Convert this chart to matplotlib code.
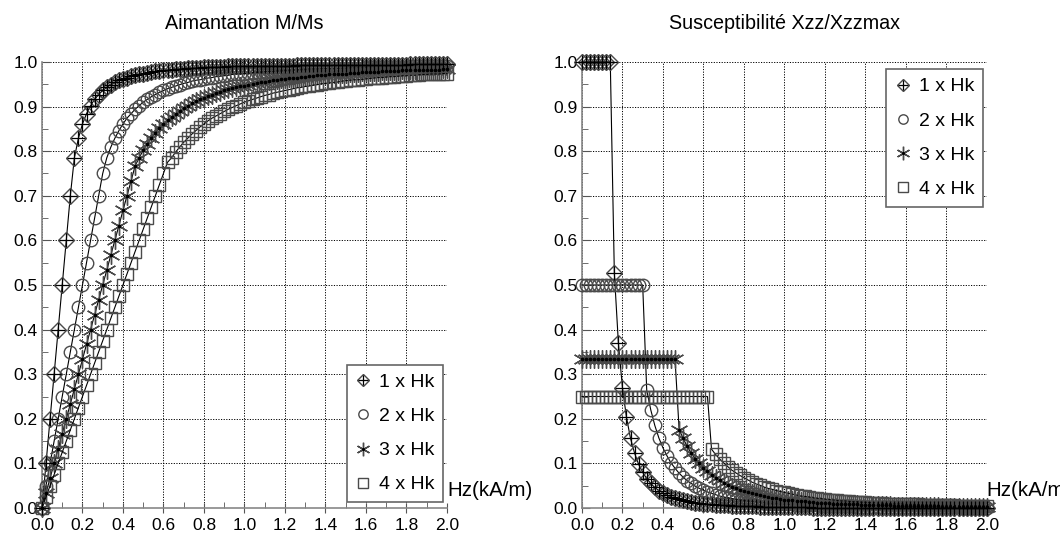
import matplotlib
matplotlib.use("Agg")
import matplotlib.pyplot as plt
from matplotlib.lines import Line2D
from matplotlib.ticker import MultipleLocator

plt.rcParams["font.family"] = ["Liberation Sans", "DejaVu Sans"]

# field Hz (kA/m), sampled every 0.02
hz = [round(0.02 * i, 2) for i in range(101)]

labels = ["1 x Hk", "2 x Hk", "3 x Hk", "4 x Hk"]

# magnetisation M/Ms
m1 = ([0, 0.1, 0.2, 0.3, 0.4, 0.5, 0.6, 0.7,
       0.785, 0.829, 0.861, 0.884, 0.902, 0.916, 0.927, 0.936, 0.943, 0.949,
       0.954, 0.959, 0.962, 0.965, 0.968, 0.970, 0.973, 0.974, 0.976, 0.977,
       0.979, 0.980, 0.981, 0.982, 0.983, 0.984, 0.984, 0.985, 0.986, 0.986,
       0.987, 0.987, 0.988, 0.988, 0.988, 0.989, 0.989, 0.989, 0.990, 0.990,
       0.990, 0.990, 0.991]
      + [0.991] * 4 + [0.992] * 8 + [0.993] * 10 + [0.994] * 18 + [0.995] * 10)
m2 = [0, 0.05, 0.1, 0.15, 0.2, 0.25, 0.3, 0.35, 0.4, 0.45, 0.5, 0.55, 0.6, 0.65, 0.7, 0.75,
      0.785, 0.809, 0.829, 0.846, 0.861, 0.874, 0.884, 0.894, 0.902, 0.910,
      0.916, 0.922, 0.927, 0.932, 0.936, 0.940, 0.943, 0.946, 0.949, 0.952,
      0.954, 0.957, 0.959, 0.960, 0.962, 0.964, 0.965, 0.967, 0.968, 0.969,
      0.970, 0.972, 0.973, 0.973, 0.974, 0.975, 0.976, 0.977, 0.977, 0.978,
      0.979, 0.979, 0.980, 0.980, 0.981, 0.981, 0.982, 0.982, 0.983, 0.983,
      0.984, 0.984, 0.984, 0.985, 0.985, 0.985, 0.986, 0.986, 0.986, 0.986,
      0.987, 0.987, 0.987, 0.987, 0.988, 0.988, 0.988, 0.988, 0.988, 0.989,
      0.989, 0.989, 0.989, 0.989, 0.989, 0.990, 0.990, 0.990, 0.990, 0.990,
      0.990, 0.990, 0.990, 0.990, 0.991]
m3 = [0, 0.033, 0.067, 0.1, 0.133, 0.167, 0.2, 0.233, 0.267, 0.3, 0.333, 0.367,
      0.4, 0.433, 0.467, 0.5, 0.533, 0.567, 0.6, 0.633, 0.667, 0.7, 0.733, 0.767,
      0.785, 0.802, 0.816, 0.829, 0.841, 0.852, 0.861, 0.870, 0.877, 0.884,
      0.891, 0.897, 0.902, 0.907, 0.912, 0.916, 0.920, 0.924, 0.927, 0.930,
      0.933, 0.936, 0.939, 0.941, 0.943, 0.945, 0.947, 0.949, 0.951, 0.953,
      0.954, 0.956, 0.957, 0.959, 0.960, 0.961, 0.962, 0.963, 0.964, 0.965,
      0.966, 0.967, 0.968, 0.969, 0.970, 0.970, 0.971, 0.972, 0.973, 0.973,
      0.974, 0.974, 0.975, 0.975, 0.976, 0.977, 0.977, 0.977, 0.978, 0.978,
      0.979, 0.979, 0.980, 0.980, 0.980, 0.981, 0.981, 0.981, 0.982, 0.982,
      0.982, 0.983, 0.983, 0.983, 0.983, 0.984, 0.984]
m4 = [0, 0.025, 0.05, 0.075, 0.1, 0.125, 0.15, 0.175, 0.2, 0.225, 0.25, 0.275,
      0.3, 0.325, 0.35, 0.375, 0.4, 0.425, 0.45, 0.475, 0.5, 0.525, 0.55, 0.575,
      0.6, 0.625, 0.65, 0.675, 0.7, 0.725, 0.75, 0.775,
      0.785, 0.798, 0.809, 0.820, 0.829, 0.838, 0.846, 0.854, 0.861, 0.868,
      0.874, 0.879, 0.884, 0.889, 0.894, 0.898, 0.902, 0.906, 0.910, 0.913,
      0.916, 0.919, 0.922, 0.925, 0.927, 0.930, 0.932, 0.934, 0.936, 0.938,
      0.940, 0.942, 0.943, 0.945, 0.946, 0.948, 0.949, 0.951, 0.952, 0.953,
      0.954, 0.955, 0.957, 0.958, 0.959, 0.960, 0.960, 0.961, 0.962, 0.963,
      0.964, 0.965, 0.965, 0.966, 0.967, 0.967, 0.968, 0.969, 0.969, 0.970,
      0.970, 0.971, 0.972, 0.972, 0.973, 0.973, 0.973, 0.974, 0.974]

# susceptibility Xzz/Xzzmax
chi1 = ([1.0] * 8
        + [0.527, 0.370, 0.270, 0.203, 0.156, 0.123, 0.098, 0.080, 0.066, 0.055,
           0.046, 0.039, 0.034, 0.029, 0.025, 0.022, 0.020, 0.017, 0.015, 0.014,
           0.012, 0.011, 0.010, 0.009, 0.008, 0.0075, 0.0069, 0.0063, 0.0058, 0.0053,
           0.0049, 0.0046, 0.0042, 0.0039, 0.0036, 0.0034, 0.0032, 0.0030, 0.0028, 0.0026,
           0.0024, 0.0023, 0.0022]
        + [0.002] * 6 + [0.001] * 19 + [0.0005] * 25)
chi2 = ([0.5] * 16
        + [0.264, 0.220, 0.185, 0.157, 0.135, 0.117, 0.101, 0.089, 0.078, 0.069,
           0.061, 0.055, 0.049, 0.044, 0.040, 0.036, 0.033, 0.030, 0.027, 0.025,
           0.023, 0.021, 0.020, 0.018, 0.017, 0.016, 0.015, 0.014, 0.013, 0.012,
           0.011, 0.010, 0.010, 0.009, 0.009, 0.008, 0.008, 0.007, 0.007, 0.006,
           0.006, 0.006, 0.006, 0.005, 0.005, 0.005, 0.005, 0.004, 0.004, 0.004,
           0.004, 0.004, 0.003, 0.003, 0.003, 0.003, 0.003, 0.003, 0.003, 0.003]
        + [0.002] * 8 + [0.0015] * 10 + [0.001] * 7)
chi3 = ([0.333] * 24
        + [0.176, 0.156, 0.138, 0.123, 0.111, 0.100, 0.090, 0.082, 0.074, 0.068,
           0.062, 0.057, 0.052, 0.048, 0.044, 0.041, 0.038, 0.035, 0.033, 0.031,
           0.029, 0.027, 0.025, 0.023, 0.022, 0.021, 0.019, 0.018, 0.017, 0.016,
           0.015, 0.015, 0.014, 0.013, 0.012, 0.012, 0.011, 0.011, 0.010, 0.010,
           0.009, 0.009, 0.008, 0.008, 0.008, 0.007, 0.007, 0.007, 0.007, 0.006,
           0.006, 0.006, 0.006, 0.005, 0.005, 0.005, 0.005, 0.005, 0.004, 0.004,
           0.004, 0.004, 0.004, 0.004, 0.004, 0.003, 0.003, 0.003, 0.003, 0.003,
           0.003, 0.003, 0.003, 0.003, 0.003, 0.0025, 0.0024])
chi4 = ([0.25] * 32
        + [0.132, 0.120, 0.110, 0.101, 0.093, 0.085, 0.079, 0.073, 0.068, 0.063,
           0.058, 0.054, 0.051, 0.047, 0.044, 0.042, 0.039, 0.037, 0.035, 0.033,
           0.031, 0.029, 0.027, 0.026, 0.025, 0.023, 0.022, 0.021, 0.020, 0.019,
           0.018, 0.017, 0.016, 0.016, 0.015, 0.014, 0.014, 0.013, 0.013, 0.012,
           0.012, 0.011, 0.011, 0.010, 0.010, 0.009, 0.009, 0.009, 0.008, 0.008,
           0.008, 0.008, 0.007, 0.007, 0.007, 0.007, 0.006, 0.006, 0.006, 0.006,
           0.006, 0.005, 0.005, 0.005, 0.005, 0.005, 0.005, 0.0045, 0.0043])

GREY = "#4a4a4a"
# (marker, size, overlay marker, overlay size)
styles = [("D", 8.5, "+", 9.5), ("o", 9, None, 0), ((6, 2, 0), 13, ".", 3.5), ("s", 9, None, 0)]


def draw(ax, series, title, legend_loc, anchor):
    handles = []
    for y, (mk, ms, ov, ovs) in zip(series, styles):
        ax.plot(hz, y, color="black", lw=0.8, marker=mk, ms=ms, mfc="none",
                mec=GREY, mew=1.0, clip_on=False, zorder=3)
        h = Line2D([], [], ls="none", marker=mk, ms=ms * 0.75, mfc="none", mec=GREY, mew=1.0)
        if ov:
            ax.plot(hz, y, ls="none", marker=ov, ms=ovs, color="black", mew=0.9,
                    clip_on=False, zorder=4)
            h = (h, Line2D([], [], ls="none", marker=ov, ms=ovs * 0.75, color="black", mew=0.9))
        handles.append(h)

    ax.set_xlim(0, 2.0)
    ax.set_ylim(0, 1.0)
    ax.xaxis.set_major_locator(MultipleLocator(0.2))
    ax.xaxis.set_minor_locator(MultipleLocator(0.1))
    ax.yaxis.set_major_locator(MultipleLocator(0.1))
    ax.yaxis.set_minor_locator(MultipleLocator(0.05))
    ax.xaxis.set_major_formatter(lambda v, p: f"{v:.1f}")
    ax.yaxis.set_major_formatter(lambda v, p: f"{v:.1f}")
    ax.grid(True, which="major", color="black", ls=(0, (1.2, 1.5)), lw=0.7)
    for s in ("top", "right"):
        ax.spines[s].set_visible(False)
    for s in ("left", "bottom"):
        ax.spines[s].set_color("#888888")
        ax.spines[s].set_linewidth(1.2)
    ax.tick_params(axis="x", which="major", direction="inout", length=7, labelsize=12.5,
                   color="#555555", pad=4)
    ax.tick_params(axis="x", which="minor", direction="in", length=4, color="#555555")
    ax.tick_params(axis="y", which="major", direction="in", length=6, labelsize=12.5,
                   color="#555555", pad=3)
    ax.tick_params(axis="y", which="minor", direction="in", length=4, color="#555555")
    ax.set_title(title, fontsize=14.2, pad=24)
    ax.text(1.0, 0.04, "Hz(kA/m)", transform=ax.transAxes, fontsize=14.8,
            ha="left", va="center", clip_on=False)
    leg = ax.legend(handles, labels, loc=legend_loc, bbox_to_anchor=anchor,
                    fontsize=14, frameon=True, fancybox=False, edgecolor="#666666",
                    framealpha=1, handlelength=0.8, handletextpad=0.4,
                    labelspacing=0.85, borderpad=0.45, borderaxespad=0)
    leg.get_frame().set_linewidth(1.2)
    leg.set_zorder(10)


fig = plt.figure(figsize=(10.6, 5.42), dpi=100)
ax1 = fig.add_axes([0.0396, 0.0627, 0.382, 0.823])
ax2 = fig.add_axes([0.549, 0.0627, 0.382, 0.823])

draw(ax1, [m1, m2, m3, m4], "Aimantation M/Ms", "lower right", (0.99, 0.013))
draw(ax2, [chi1, chi2, chi3, chi4], "Susceptibilité Xzz/Xzzmax", "upper right", (0.99, 0.984))

fig.savefig("out.png", dpi=100)
